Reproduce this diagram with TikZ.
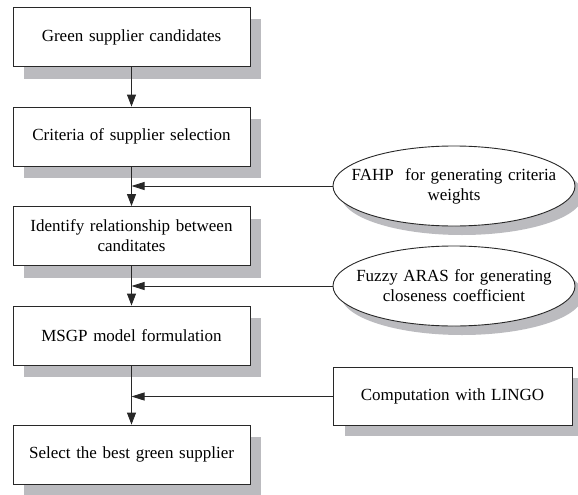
\documentclass[tikz,border=0pt]{standalone}
\usepackage{fontspec}
\setmainfont{Liberation Serif}
\usetikzlibrary{shapes.geometric,arrows.meta,shadows}
\definecolor{shadowgray}{RGB}{187,187,191}
\definecolor{linegray}{RGB}{40,40,40}
\tikzset{
  procbox/.style={draw=linegray, line width=0.9pt, fill=white, minimum width=237pt, minimum height=59pt,
    inner sep=0pt, text width=228pt, align=center, font=\fontsize{17}{20}\selectfont,
    general shadow={shadow xshift=11pt, shadow yshift=-12pt, fill=shadowgray}},
  toolbox/.style={draw=linegray, line width=0.9pt, fill=white, minimum width=239pt, minimum height=58pt,
    inner sep=0pt, text width=228pt, align=center, font=\fontsize{17}{20}\selectfont,
    general shadow={shadow xshift=12pt, shadow yshift=-10pt, fill=shadowgray}},
  methell/.style={draw=linegray, line width=0.9pt, fill=white, ellipse, minimum width=242pt, minimum height=80pt,
    inner xsep=-17pt, inner ysep=0pt, text width=205pt, align=center, font=\fontsize{17}{20}\selectfont,
    general shadow={shadow xshift=8pt, shadow yshift=-9pt, fill=shadowgray}},
  flow/.style={draw=linegray, line width=0.9pt, -{Triangle[length=12pt, width=9pt]}},
  feed/.style={draw=linegray, line width=0.9pt, -{Triangle[length=13pt, width=8pt]}}
}
\begin{document}
\begin{tikzpicture}[x=1pt, y=-1pt]
\useasboundingbox (0,0) rectangle (578,495);
\node[procbox] (b1) at (131.5,37) {Green supplier candidates};
\node[procbox] (b2) at (131.5,136.5) {Criteria of supplier selection};
\node[procbox] (b3) at (131.5,236) {Identify relationship between\\canditates};
\node[procbox] (b4) at (131.5,335.5) {MSGP model formulation};
\node[procbox] (b5) at (131.5,454.5) {Select the best green supplier};
\node[methell] (e1) at (454,186) {FAHP \ for generating criteria\\weights};
\node[methell] (e2) at (454,286) {Fuzzy ARAS for generating\\closeness coefficient};
\node[toolbox] (t1) at (452.5,396.5) {Computation with LINGO};
\draw[flow] (b1.south) -- (b2.north);
\draw[flow] (b2.south) -- (b3.north);
\draw[flow] (b3.south) -- (b4.north);
\draw[flow] (b4.south) -- (b5.north);
\draw[feed] (e1.west) -- (e1.west -| b2.south);
\draw[feed] (e2.west) -- (e2.west -| b3.south);
\draw[feed] (t1.west) -- (t1.west -| b4.south);
\end{tikzpicture}
\end{document}
